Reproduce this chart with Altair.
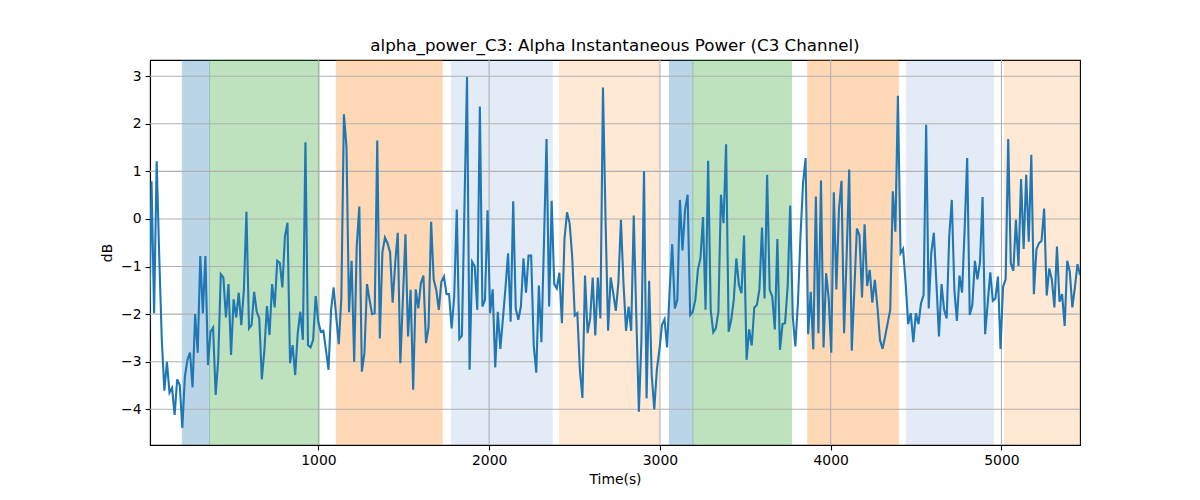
import numpy as np
import pandas as pd
import altair as alt

# alpha power samples (dB), one every ~15 s
power_db = [
    -2.50, 0.79, -1.98, 1.21, -0.79, -2.54, -3.61, -3.00, -3.65, -3.55,
    -4.12, -3.37, -3.49, -4.39, -3.31, -2.96, -2.81, -3.54, -2.00, -2.81,
    -0.78, -1.98, -0.78, -3.07, -2.37, -2.28, -3.70, -2.96, -1.16, -1.23,
    -2.07, -1.37, -2.86, -1.69, -2.07, -1.55, -2.23, -1.49, 0.15, -2.30,
    -2.23, -1.53, -1.95, -2.09, -3.37, -2.75, -1.83, -2.44, -1.37, -1.86,
    -0.88, -0.92, -1.44, -0.37, -0.08, -3.03, -2.65, -3.28, -2.40, -1.95,
    -2.54, 1.61, -2.65, -2.70, -2.54, -1.62, -2.16, -2.37, -2.35, -2.75,
    -3.17, -1.91, -1.44, -2.05, -2.63, -1.67, 2.20, 1.52, -1.96, -0.88,
    -3.00, -0.57, 0.26, -3.21, -2.82, -1.37, -1.70, -2.00, -1.98, 1.65,
    -2.51, -0.70, -0.39, -0.51, -0.70, -1.76, -0.93, -0.29, -3.03, -1.67,
    -0.32, -2.47, -1.49, -3.59, -1.48, -1.88, -1.35, -1.19, -2.61, -2.28,
    -0.06, -1.27, -1.49, -1.91, -1.32, -1.21, -1.58, -1.58, -2.30, -1.63,
    0.20, -2.52, -2.45, 0.26, 2.99, -3.17, -0.90, -1.00, -1.91, 2.36,
    -1.84, -1.70, 0.18, -1.98, -1.48, -3.12, -1.95, -2.73, -2.09, -1.44,
    -0.72, -2.16, 0.37, -1.88, -2.12, -1.84, -0.83, -1.55, -0.77, -0.77,
    -2.65, -3.23, -1.40, -2.59, -0.50, 1.68, -1.84, 0.38, -1.37, -1.46,
    -1.13, -2.19, -0.42, 0.14, -0.09, -0.79, -2.03, -1.98, -3.17, -3.76,
    -1.19, -2.40, -2.09, -1.23, -2.45, -1.23, -2.09, 2.76, 0.00, -2.35,
    -1.23, -1.56, -1.93, -1.35, -0.02, -1.35, -2.35, -1.84, -2.35, 0.07,
    -2.05, -4.05, -2.54, 1.00, -3.77, -1.30, -3.28, -4.00, -3.17, -2.75,
    -2.23, -2.11, -2.70, -1.49, -0.53, -1.88, -1.70, 0.40, -0.66, 0.19,
    0.51, -2.02, -1.95, -1.70, -1.07, -0.83, 0.04, -1.91, 1.22, -1.91,
    -2.38, -2.30, -1.95, 0.51, -0.09, 1.57, -2.37, -2.12, -1.70, -0.83,
    -1.39, -1.56, -0.35, -2.96, -2.32, -2.66, -1.86, -1.81, -1.48, -0.18,
    -1.67, 0.93, -1.49, -1.63, -2.32, -0.42, -2.75, -2.21, -2.19, -1.42,
    0.28, -2.05, -2.68, -1.77, -0.37, 0.75, 1.28, -2.42, -1.53, -2.74,
    0.47, -2.40, 0.81, -2.70, -1.14, -1.67, -2.81, 0.56, -1.48, 0.19,
    0.80, -2.40, -0.78, 1.04, -2.77, -1.49, -0.20, -0.34, -1.65, -0.11,
    -1.41, -1.07, -1.76, -1.28, -1.84, -2.54, -2.73, -2.47, -2.19, -1.91,
    0.58, -0.27, 2.59, -0.72, -0.63, -1.35, -2.21, -1.98, -2.59, -1.98,
    -2.21, -1.77, -1.60, 1.98, -1.88, -0.72, -0.29, -1.35, -2.47, -1.37,
    -1.91, -2.09, -0.37, 0.40, -1.49, -2.14, -1.19, -1.55, -0.23, 1.28,
    -2.02, -1.81, -0.88, -1.27, -0.90, 0.46, -2.42, -1.77, -1.12, -1.72,
    -1.67, -1.21, -2.73, -1.42, -1.27, 1.68, -0.93, -1.09, -0.02, -0.99,
    0.84, -0.63, 0.93, -0.48, 1.35, -1.58, -0.64, -0.51, -0.46, 0.22,
    -1.61, -1.04, -1.27, -1.86, -0.58, -1.74, -1.58, -2.25, -0.88, -1.11,
    -1.86, -1.44, -0.95, -1.18,
]
t_start = 8.0
t_step = 15.02

# shaded epochs (seconds)
span_start = [203, 363, 1105, 1779, 2412, 3056, 3193, 3866, 4445, 5019]
span_end   = [363, 1006, 1725, 2369, 2994, 3193, 3771, 4396, 4954, 5460]
span_color = ['#1f77b4', '#2ca02c', '#ff7f0e', '#4b80ca', '#ff7f0e',
              '#1f77b4', '#2ca02c', '#ff7f0e', '#4b80ca', '#ff7f0e']
span_alpha = [0.3, 0.3, 0.3, 0.15, 0.17, 0.3, 0.3, 0.3, 0.15, 0.17]

x_ticks = [1000, 2000, 3000, 4000, 5000]
y_ticks = [-4, -3, -2, -1, 0, 1, 2, 3]

times   = t_start + t_step*np.arange(len(power_db))
line_df = pd.DataFrame({'Time(s)': times, 'dB': power_db})
span_df = pd.DataFrame({'start': span_start, 'end': span_end, 'color': span_color, 'alpha': span_alpha})

x_scale = alt.Scale(domain=[14, 5460], nice=False, zero=False)
y_scale = alt.Scale(domain=[-4.75, 3.34], nice=False, zero=False)
x_axis  = alt.Axis(title='Time(s)', values=x_ticks, format='d', grid=False, titlePadding=5)
y_axis  = alt.Axis(title='dB', values=y_ticks, format='d', grid=False, titlePadding=6)

spans = alt.Chart(span_df).mark_rect(strokeWidth=1, clip=True).encode(
    x=alt.X('start:Q', scale=x_scale, axis=x_axis),
    x2='end:Q',
    y=alt.value(0), y2=alt.value('height'),
    color=alt.Color('color:N', scale=None),
    stroke=alt.Stroke('color:N', scale=None),
    opacity=alt.Opacity('alpha:Q', scale=None))

xgrid = alt.Chart(pd.DataFrame({'tick': x_ticks})).mark_rule(color='#b0b0b0', strokeWidth=1.1).encode(
    x=alt.X('tick:Q', scale=x_scale, axis=x_axis))
ygrid = alt.Chart(pd.DataFrame({'tick': y_ticks})).mark_rule(color='#b0b0b0', strokeWidth=1.1).encode(
    y=alt.Y('tick:Q', scale=y_scale, axis=y_axis))

line = alt.Chart(line_df).mark_line(color='#1f77b4', strokeWidth=2.1, clip=True).encode(
    x=alt.X('Time(s):Q', scale=x_scale, axis=x_axis),
    y=alt.Y('dB:Q', scale=y_scale, axis=y_axis))

chart = alt.layer(spans, xgrid, ygrid, line).properties(
    width=930, height=385,
    title=alt.TitleParams('alpha_power_C3: Alpha Instantaneous Power (C3 Channel)',
                          fontSize=16.7, fontWeight='normal', font='DejaVu Sans', color='black', offset=5),
    autosize=alt.AutoSizeParams(type='none'),
    padding={'left': 142, 'top': 52, 'right': 112, 'bottom': 47},
).configure_axis(
    labelFont='DejaVu Sans', labelFontSize=13.9, labelColor='black', labelPadding=4,
    titleFont='DejaVu Sans', titleFontSize=13.9, titleFontWeight='normal', titleColor='black',
    tickColor='black', tickSize=4.9, tickWidth=1.1, domainColor='black', domainWidth=1.1,
).configure_view(stroke='black', strokeWidth=1.1)

chart.save("out.html", embed_options={"renderer": "svg", "actions": False})
